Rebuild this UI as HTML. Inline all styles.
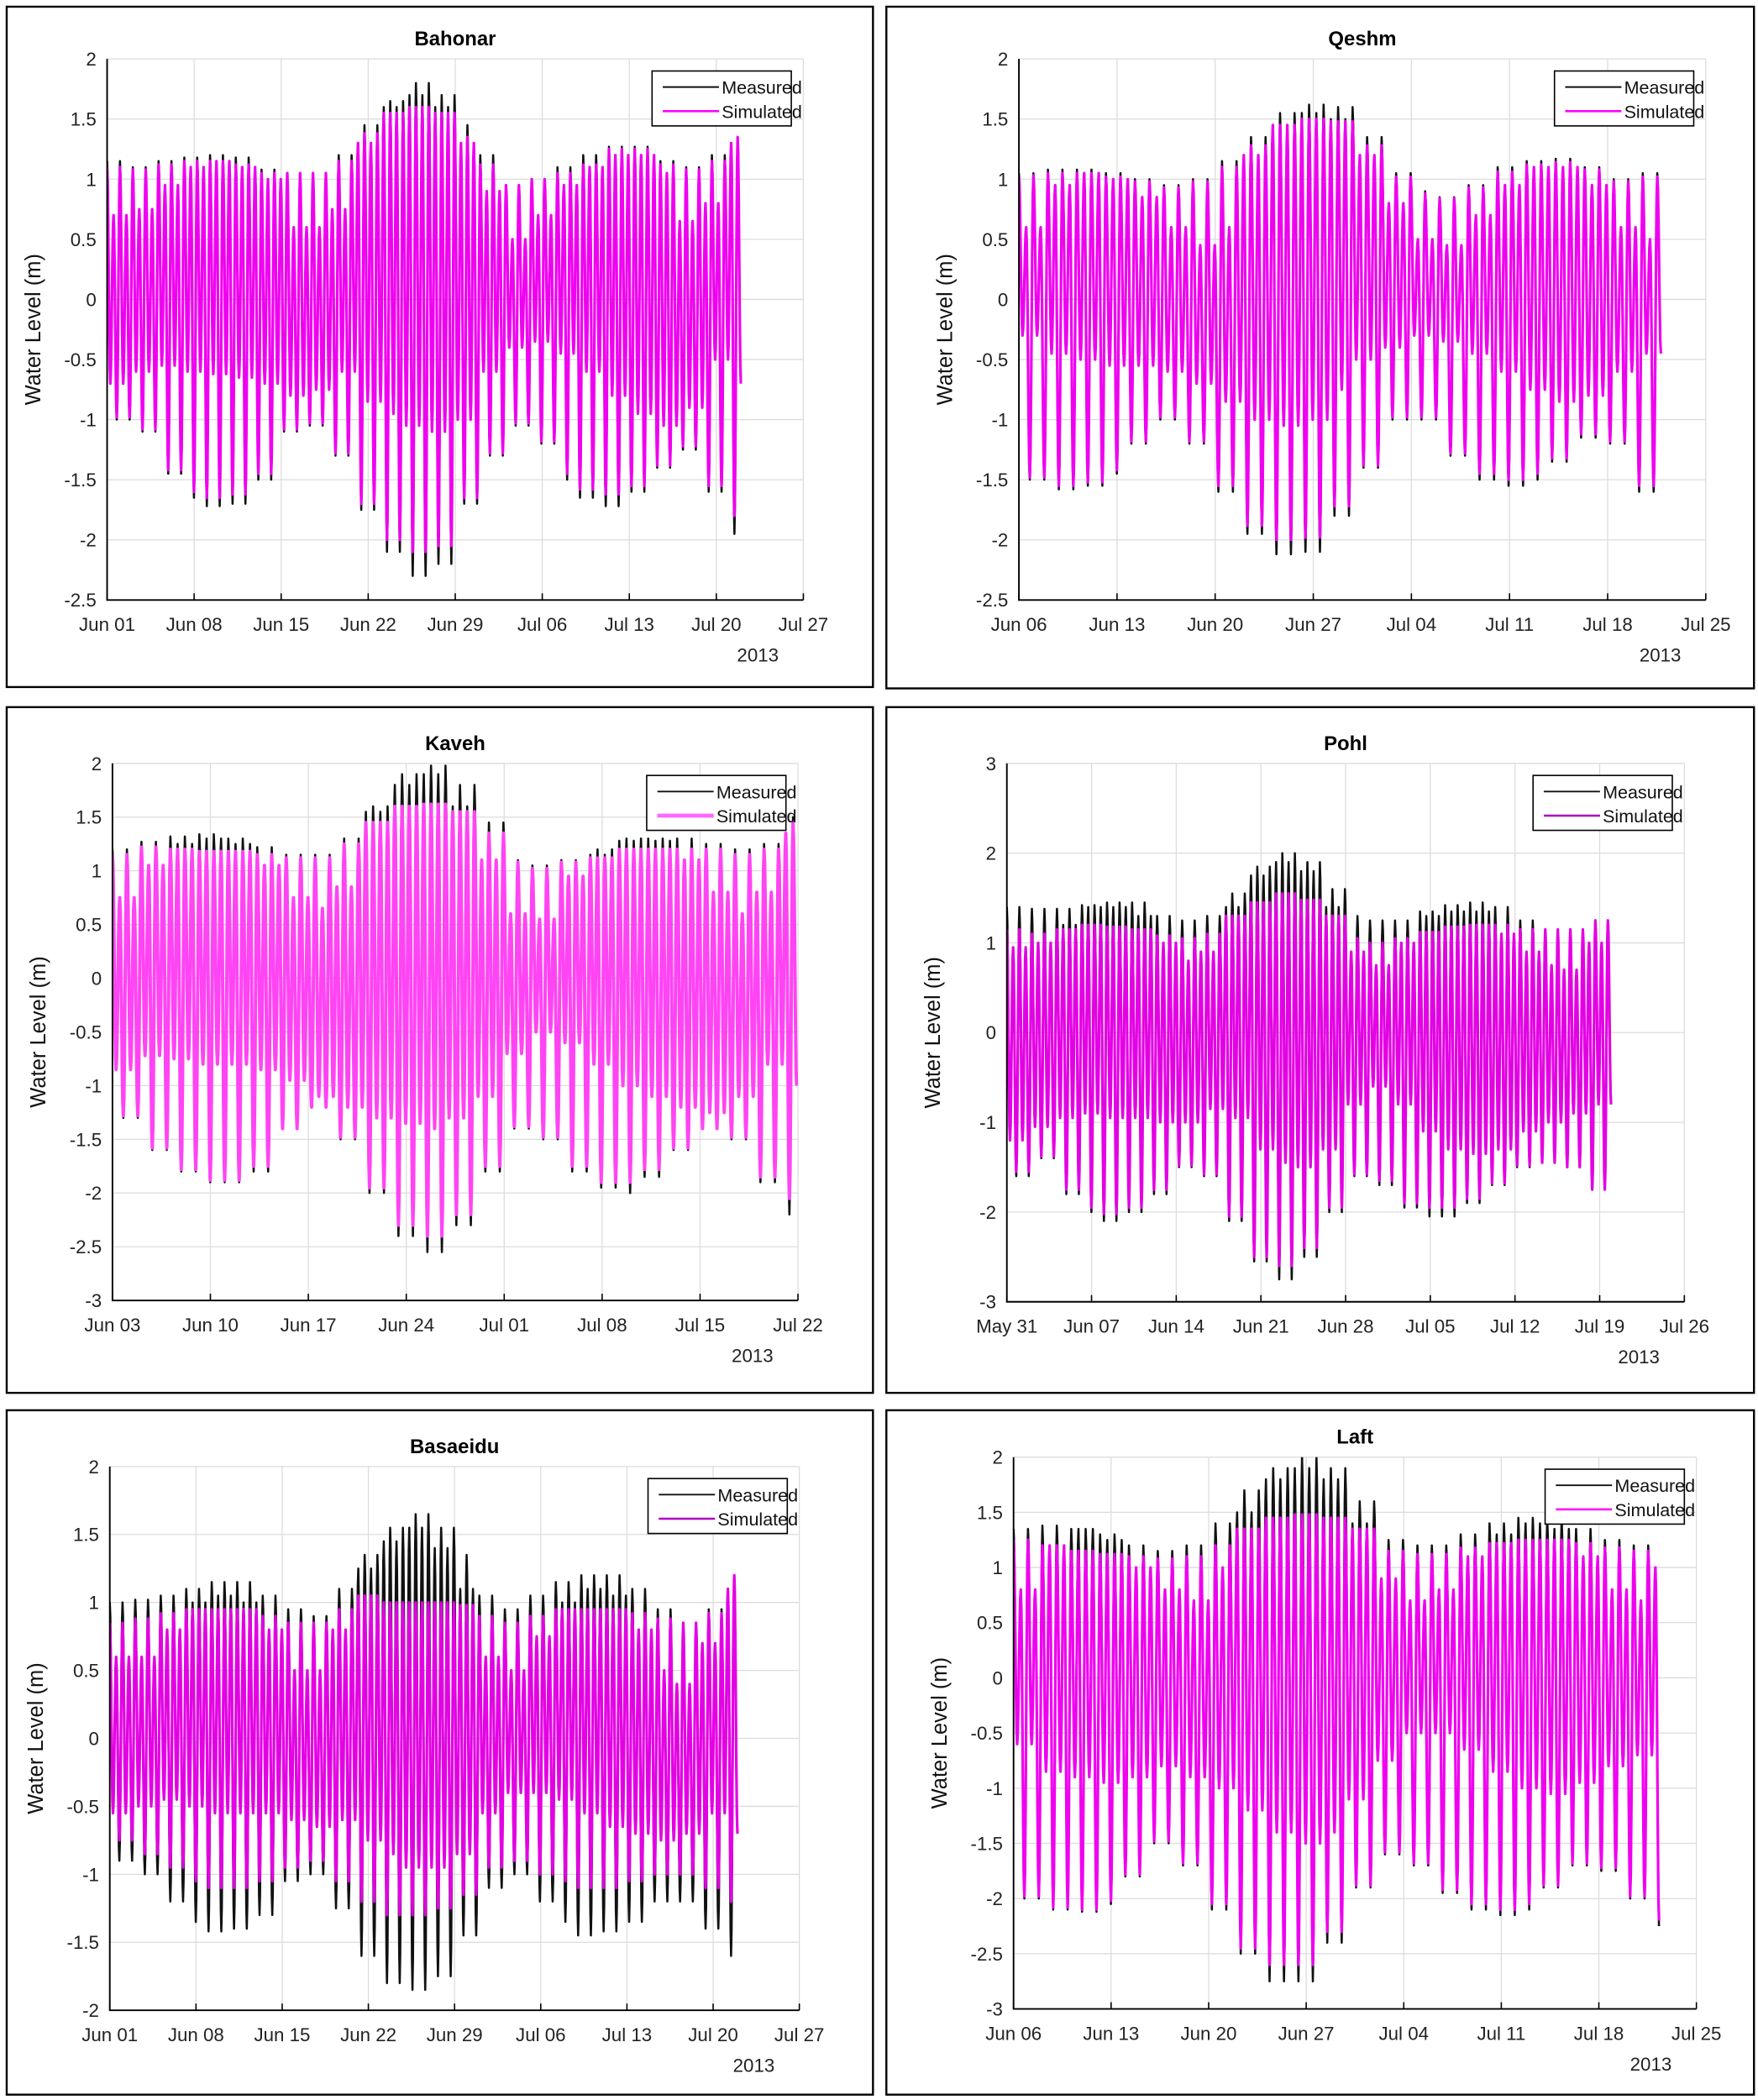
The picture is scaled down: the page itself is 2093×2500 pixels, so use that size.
<!DOCTYPE html>
<html><head><meta charset="utf-8">
<style>
html,body{margin:0;padding:0;background:#fff;}
svg{display:block;}
text{font-family:"Liberation Sans",Arial,sans-serif;}
</style></head>
<body>
<svg id="fig" width="2093" height="2500" viewBox="0 0 1313 1568" preserveAspectRatio="none" xmlns="http://www.w3.org/2000/svg"></svg>
<script>
// ---------- data (2-day bins) ----------
const bahonarTicks = ['Jun 01','Jun 08','Jun 15','Jun 22','Jun 29','Jul 06','Jul 13','Jul 20','Jul 27'];
const bahonarHH = [1.15,1.1,1.15,1.18,1.2,1.18,1.08,1.05,1.05,1.2,1.45,1.65,1.8,1.7,1.45,1.2,0.95,1.0,1.1,1.2,1.27,1.27,1.15,1.1,1.2,1.35];
const bahonarLH = [0.7,0.75,0.95,1.1,1.15,1.1,1.0,0.6,0.6,0.75,1.3,1.6,1.7,1.6,1.3,0.9,0.5,0.7,0.95,1.1,1.2,1.2,1.05,0.65,0.8,1.3];
const bahonarHL = [-0.7,-0.6,-0.55,-0.6,-0.62,-0.65,-0.7,-0.8,-0.75,-0.6,-0.85,-0.95,-1.05,-1.1,-1.0,-0.6,-0.4,-0.35,-0.45,-0.6,-0.8,-0.95,-1.05,-0.9,-0.5,-0.7];
const bahonarLL = [-1.0,-1.1,-1.45,-1.65,-1.72,-1.7,-1.5,-1.1,-1.05,-1.3,-1.75,-2.1,-2.3,-2.2,-1.7,-1.3,-1.05,-1.2,-1.5,-1.65,-1.72,-1.6,-1.4,-1.25,-1.6,-1.95];
const bahonarSimHH = [1.1,1.08,1.12,1.15,1.15,1.12,1.05,1.05,1.05,1.15,1.38,1.55,1.6,1.55,1.35,1.12,0.95,1.0,1.05,1.12,1.25,1.25,1.12,1.08,1.15,1.35];
const bahonarSimLL = [-0.98,-1.08,-1.42,-1.6,-1.65,-1.62,-1.45,-1.08,-1.03,-1.28,-1.7,-2.0,-2.1,-2.05,-1.65,-1.28,-1.03,-1.18,-1.45,-1.58,-1.62,-1.55,-1.38,-1.22,-1.55,-1.8];

const qeshmTicks = ['Jun 06','Jun 13','Jun 20','Jun 27','Jul 04','Jul 11','Jul 18','Jul 25'];
const qeshmHH = [1.05,1.08,1.08,1.05,1.0,0.95,1.0,1.15,1.35,1.55,1.62,1.6,1.35,1.05,0.9,0.85,0.95,1.1,1.15,1.17,1.1,1.0,1.05,1.25];
const qeshmLH = [0.6,0.95,1.05,1.0,0.85,0.6,0.45,0.6,1.2,1.45,1.55,1.5,1.2,0.8,0.5,0.45,0.7,0.95,1.1,1.1,0.95,0.6,0.5,0.9];
const qeshmHL = [-0.3,-0.45,-0.5,-0.55,-0.55,-0.6,-0.7,-0.85,-1.0,-1.05,-1.0,-0.75,-0.5,-0.4,-0.3,-0.35,-0.45,-0.6,-0.75,-0.85,-0.8,-0.6,-0.45,-0.65];
const qeshmLL = [-1.5,-1.58,-1.55,-1.45,-1.2,-1.0,-1.2,-1.6,-1.95,-2.12,-2.1,-1.8,-1.4,-1.0,-1.0,-1.3,-1.5,-1.55,-1.5,-1.35,-1.15,-1.2,-1.6,-1.8];
const qeshmSimHH = [1.03,1.05,1.05,1.02,0.98,0.93,0.98,1.1,1.28,1.45,1.5,1.48,1.28,1.02,0.88,0.84,0.93,1.06,1.12,1.14,1.08,0.98,1.02,1.2];
const qeshmSimLL = [-1.48,-1.55,-1.52,-1.42,-1.18,-0.98,-1.18,-1.55,-1.88,-2.0,-1.98,-1.72,-1.38,-0.98,-0.98,-1.28,-1.45,-1.5,-1.45,-1.32,-1.12,-1.18,-1.55,-1.65];

const kavehTicks = ['Jun 03','Jun 10','Jun 17','Jun 24','Jul 01','Jul 08','Jul 15','Jul 22'];
const kavehHH = [1.2,1.27,1.32,1.34,1.3,1.22,1.15,1.15,1.3,1.6,1.9,1.98,1.8,1.45,1.1,1.05,1.1,1.15,1.28,1.3,1.3,1.25,1.2,1.25,1.5];
const kavehLH = [0.75,1.05,1.25,1.3,1.25,1.05,0.75,0.65,0.85,1.55,1.8,1.9,1.6,1.1,0.6,0.55,0.95,1.2,1.3,1.28,1.1,0.8,0.6,0.8,1.35];
const kavehHL = [-0.85,-0.72,-0.75,-0.8,-0.8,-0.85,-0.95,-1.1,-1.2,-1.3,-1.35,-1.4,-1.3,-1.1,-0.7,-0.5,-0.6,-0.8,-1.0,-1.1,-1.2,-1.25,-1.1,-0.8,-1.0];
const kavehLL = [-1.3,-1.6,-1.8,-1.9,-1.9,-1.8,-1.4,-1.2,-1.5,-2.0,-2.4,-2.55,-2.3,-1.8,-1.4,-1.5,-1.8,-1.95,-2.0,-1.85,-1.6,-1.4,-1.5,-1.9,-2.2];
const kavehSimHH = [1.15,1.22,1.2,1.18,1.18,1.15,1.12,1.12,1.25,1.45,1.6,1.62,1.55,1.35,1.08,1.02,1.08,1.12,1.2,1.2,1.2,1.2,1.15,1.2,1.45];
const kavehSimLL = [-1.28,-1.58,-1.78,-1.88,-1.88,-1.75,-1.4,-1.2,-1.48,-1.95,-2.3,-2.4,-2.2,-1.75,-1.38,-1.48,-1.75,-1.9,-1.9,-1.78,-1.58,-1.4,-1.48,-1.85,-2.05];

const pohlTicks = ['May 31','Jun 07','Jun 14','Jun 21','Jun 28','Jul 05','Jul 12','Jul 19','Jul 26'];
const pohlHH = [1.4,1.38,1.38,1.42,1.45,1.45,1.3,1.25,1.3,1.55,1.85,2.0,1.9,1.6,1.3,1.25,1.25,1.35,1.42,1.45,1.4,1.25,1.1,0.85,1.1];
const pohlLH = [0.95,1.0,1.2,1.4,1.4,1.3,1.0,0.8,0.9,1.4,1.75,1.9,1.8,1.4,0.9,0.75,1.0,1.3,1.35,1.35,1.1,0.9,0.75,0.7,1.0];
const pohlHL = [-1.2,-1.05,-0.95,-0.9,-0.95,-0.95,-1.0,-1.0,-0.85,-0.95,-1.3,-1.45,-1.5,-1.3,-0.8,-0.6,-0.8,-1.1,-1.3,-1.35,-1.3,-1.1,-1.0,-0.9,-0.8];
const pohlLL = [-1.6,-1.4,-1.8,-2.0,-2.1,-2.0,-1.8,-1.5,-1.6,-2.1,-2.55,-2.75,-2.5,-2.0,-1.6,-1.7,-1.95,-2.05,-2.05,-1.9,-1.7,-1.5,-1.45,-1.5,-1.75];
const pohlSimHH = [1.15,1.1,1.15,1.2,1.18,1.15,1.08,1.05,1.1,1.3,1.45,1.55,1.48,1.3,1.05,1.0,1.05,1.12,1.18,1.2,1.2,1.15,1.15,1.15,1.25];
const pohlSimLL = [-1.55,-1.38,-1.75,-1.95,-2.02,-1.95,-1.75,-1.48,-1.58,-2.05,-2.5,-2.6,-2.4,-1.95,-1.58,-1.65,-1.9,-1.95,-1.95,-1.85,-1.68,-1.48,-1.45,-1.5,-1.75];

const basaeiduTicks = ['Jun 01','Jun 08','Jun 15','Jun 22','Jun 29','Jul 06','Jul 13','Jul 20','Jul 27'];
const basaeiduHH = [1.0,1.02,1.05,1.1,1.15,1.15,1.05,0.95,0.9,1.1,1.35,1.55,1.65,1.55,1.35,1.05,0.95,1.05,1.15,1.2,1.2,1.1,0.95,0.85,0.95,1.2];
const basaeiduLH = [0.6,0.6,0.8,1.0,1.05,1.0,0.8,0.5,0.5,0.8,1.25,1.45,1.55,1.4,1.1,0.6,0.5,0.75,1.0,1.1,1.05,0.8,0.5,0.4,0.7,1.1];
const basaeiduHL = [-0.55,-0.5,-0.45,-0.5,-0.55,-0.55,-0.55,-0.6,-0.65,-0.6,-0.75,-0.85,-0.95,-0.95,-0.85,-0.55,-0.4,-0.4,-0.45,-0.55,-0.65,-0.7,-0.75,-0.7,-0.55,-0.7];
const basaeiduLL = [-0.9,-1.0,-1.2,-1.35,-1.42,-1.4,-1.3,-1.05,-1.0,-1.25,-1.6,-1.8,-1.85,-1.75,-1.45,-1.1,-1.0,-1.2,-1.35,-1.45,-1.42,-1.35,-1.2,-1.2,-1.4,-1.6];
const basaeiduSimHH = [0.85,0.88,0.92,0.95,0.95,0.95,0.9,0.85,0.85,0.95,1.05,1.0,1.0,1.0,0.98,0.9,0.85,0.9,0.95,0.95,0.95,0.92,0.88,0.85,0.92,1.2];
const basaeiduSimLL = [-0.75,-0.85,-0.95,-1.05,-1.1,-1.1,-1.05,-0.95,-0.9,-1.05,-1.2,-1.3,-1.3,-1.25,-1.15,-0.95,-0.9,-1.0,-1.05,-1.1,-1.1,-1.05,-1.0,-1.0,-1.1,-1.2];

const laftTicks = ['Jun 06','Jun 13','Jun 20','Jun 27','Jul 04','Jul 11','Jul 18','Jul 25'];
const laftHH = [1.35,1.38,1.35,1.3,1.2,1.15,1.2,1.4,1.7,1.9,2.0,1.9,1.6,1.25,1.2,1.2,1.3,1.4,1.45,1.45,1.35,1.25,1.2,1.3];
const laftLH = [0.8,1.2,1.35,1.25,1.0,0.8,0.7,1.0,1.5,1.8,1.9,1.8,1.4,0.9,0.7,0.8,1.1,1.3,1.4,1.35,1.1,0.8,0.7,1.0];
const laftHL = [-0.6,-0.85,-0.9,-0.95,-0.9,-0.8,-0.9,-1.0,-1.2,-1.4,-1.5,-1.4,-1.1,-0.75,-0.5,-0.5,-0.65,-0.85,-1.0,-1.05,-0.95,-0.8,-0.7,-1.1];
const laftLL = [-2.0,-2.1,-2.12,-2.05,-1.8,-1.5,-1.7,-2.1,-2.5,-2.75,-2.75,-2.4,-1.9,-1.6,-1.7,-1.95,-2.1,-2.15,-2.1,-1.9,-1.7,-1.75,-2.0,-2.25];
const laftSimHH = [1.25,1.2,1.15,1.12,1.1,1.08,1.1,1.2,1.35,1.45,1.48,1.45,1.35,1.15,1.12,1.12,1.18,1.22,1.25,1.25,1.22,1.18,1.15,1.25];
const laftSimLL = [-1.98,-2.08,-2.1,-2.02,-1.78,-1.48,-1.68,-2.05,-2.45,-2.6,-2.6,-2.3,-1.88,-1.58,-1.68,-1.92,-2.05,-2.1,-2.05,-1.88,-1.68,-1.72,-1.98,-2.2];

// ---------- layout ----------
const panels = [
 {name:'bahonar',title:'Bahonar',box:[5,5,647,508],pl:[80,600,44,448],ymax:2,ymin:-2.5,ystep:0.5,ticks:bahonarTicks,end:51,hh:bahonarHH,lh:bahonarLH,hl:bahonarHL,ll:bahonarLL,shh:bahonarSimHH,sll:bahonarSimLL,sc:'#f000f0',sw:2,lc:'#ff00ff'},
 {name:'qeshm',title:'Qeshm',box:[662,5,648,509],pl:[761,1274,44,448],ymax:2,ymin:-2.5,ystep:0.5,ticks:qeshmTicks,end:46,hh:qeshmHH,lh:qeshmLH,hl:qeshmHL,ll:qeshmLL,shh:qeshmSimHH,sll:qeshmSimLL,sc:'#f000f0',sw:2,lc:'#ff00ff'},
 {name:'kaveh',title:'Kaveh',box:[5,528,647,512],pl:[84,596,570,971],ymax:2,ymin:-3,ystep:0.5,ticks:kavehTicks,end:49,hh:kavehHH,lh:kavehLH,hl:kavehHL,ll:kavehLL,shh:kavehSimHH,sll:kavehSimLL,sc:'#ff44f4',sw:2.5,lc:'#ff66ff'},
 {name:'pohl',title:'Pohl',box:[662,528,648,512],pl:[752,1258,570,972],ymax:3,ymin:-3,ystep:1,ticks:pohlTicks,end:50,hh:pohlHH,lh:pohlLH,hl:pohlHL,ll:pohlLL,shh:pohlSimHH,sll:pohlSimLL,sc:'#e400e4',sw:2,lc:'#b000c0'},
 {name:'basaeidu',title:'Basaeidu',box:[5,1053,647,511],pl:[82,597,1095,1501],ymax:2,ymin:-2,ystep:0.5,ticks:basaeiduTicks,end:51,hh:basaeiduHH,lh:basaeiduLH,hl:basaeiduHL,ll:basaeiduLL,shh:basaeiduSimHH,sll:basaeiduSimLL,sc:'#e400e4',sw:2,lc:'#b000c0'},
 {name:'laft',title:'Laft',box:[662,1053,648,511],pl:[757,1267,1088,1500],ymax:2,ymin:-3,ystep:0.5,ticks:laftTicks,end:46.5,hh:laftHH,lh:laftLH,hl:laftHL,ll:laftLL,shh:laftSimHH,sll:laftSimLL,sc:'#f000f0',sw:2,lc:'#ff00ff'}
];
const NS='http://www.w3.org/2000/svg';
const svg=document.getElementById('fig');
function mk(tag,attrs,parent){const e=document.createElementNS(NS,tag);for(const k in attrs)e.setAttribute(k,attrs[k]);(parent||svg).appendChild(e);return e;}
function fmt(v){return (Math.round(v*10)/10).toString();}

panels.forEach((p,pi)=>{
  const g=mk('g',{});
  
  
  const [x0,x1,y0,y1]=p.pl;
  const span=(p.ticks.length-1)*7;
  const X=t=>x0+(x1-x0)*t/span;
  const Y=v=>y0+(y1-y0)*(p.ymax-v)/(p.ymax-p.ymin);
  const frame=mk('rect',{x:p.box[0],y:p.box[1],width:p.box[2],height:p.box[3],fill:'#fff',stroke:'#000','stroke-width':1.5},g);
  
  
  for(let i=0;i<p.ticks.length;i++){
    const gl=mk('line',{x1:X(i*7),x2:X(i*7),y1:y0,y2:y1,stroke:'#dcdcdc','stroke-width':0.8},g);
    
    
  }
  const ny=Math.round((p.ymax-p.ymin)/p.ystep);
  for(let j=0;j<=ny;j++){
    const v=p.ymax-j*p.ystep;
    const gl=mk('line',{x1:x0,x2:x1,y1:Y(v),y2:Y(v),stroke:'#dcdcdc','stroke-width':0.8},g);
    
    
    const tl=mk('text',{x:x0-8,y:Y(v)+5,'text-anchor':'end','font-size':14,fill:'#222'},g);
    tl.textContent=fmt(v);
    
    
  }
  const cid='clip'+pi;
  const cp=mk('clipPath',{id:cid},g);mk('rect',{x:x0,y:y0,width:x1-x0,height:y1-y0},cp);
  const per=0.5175;
  function build(sim){
    const ext=[];
    for(let k=0;k*per<=p.end;k++){
      const t=k*per, tl=t+per/2;
      const b=Math.min(Math.floor(t/2),p.hh.length-1);
      const b2=Math.min(Math.floor(tl/2),p.hh.length-1);
      let hi,lo;
      if(k%2===0){hi=sim?p.shh[b]:p.hh[b];lo=sim?Math.max(p.hl[b2],p.sll[b2]):p.hl[b2];}
      else{hi=sim?Math.min(p.lh[b],p.shh[b]):p.lh[b];lo=sim?p.sll[b2]:p.ll[b2];}
      ext.push([t,hi]);if(tl<=p.end)ext.push([tl,lo]);
    }
    let d='M'+X(ext[0][0]).toFixed(2)+' '+Y(ext[0][1]).toFixed(2);
    for(let i=1;i<ext.length;i++){
      const [ta,va]=ext[i-1],[tb,vb]=ext[i];
      for(let s=1;s<=6;s++){const f=s/6;const w=(1-Math.cos(Math.PI*f))/2;
        d+='L'+X(ta+(tb-ta)*f).toFixed(2)+' '+Y(va+(vb-va)*w).toFixed(2);}
    }
    return d;
  }
  const meas=mk('path',{d:build(false),fill:'none',stroke:'#111','stroke-width':1.6,'clip-path':'url(#'+cid+')','stroke-linejoin':'round'},g);
  
  
  const simp=mk('path',{d:build(true),fill:'none',stroke:p.sc,'stroke-width':p.sw,'clip-path':'url(#'+cid+')','stroke-linejoin':'round'},g);
  
  
  const ax=mk('path',{d:`M${x0} ${y0}V${y1}H${x1}`,fill:'none',stroke:'#000','stroke-width':1.2},g);
  
  
  for(let i=0;i<p.ticks.length;i++){
    const tk=mk('line',{x1:X(i*7),x2:X(i*7),y1:y1,y2:y1-5,stroke:'#000','stroke-width':1},g);
    
    
    const tl=mk('text',{x:X(i*7),y:y1+23,'text-anchor':'middle','font-size':14,fill:'#222'},g);
    tl.textContent=p.ticks[i];
    
    
  }
  const yr=mk('text',{x:x1-34,y:y1+46,'text-anchor':'middle','font-size':14,fill:'#222'},g);
  yr.textContent='2013';
  
  
  const tt=mk('text',{x:(x0+x1)/2,y:y0-10,'text-anchor':'middle','font-size':15,'font-weight':'bold',fill:'#000'},g);
  tt.textContent=p.title;
  
  
  const yl=mk('text',{x:0,y:0,'text-anchor':'middle','font-size':16,fill:'#111',transform:`translate(${x0-50},${(y0+y1)/2}) rotate(-90)`},g);
  yl.textContent='Water Level (m)';
  
  
  const lw=104,lh=41,lx=x1-9-lw,ly=y0+9;
  const lg=mk('g',{},g);
  
  
  mk('rect',{x:lx,y:ly,width:lw,height:lh,fill:'#fff',stroke:'#000','stroke-width':1},lg);
  mk('line',{x1:lx+8,x2:lx+50,y1:ly+12,y2:ly+12,stroke:'#111','stroke-width':1.2},lg);
  mk('line',{x1:lx+8,x2:lx+50,y1:ly+30,y2:ly+30,stroke:p.lc,'stroke-width':p.name==='kaveh'?3:1.6},lg);
  const t1=mk('text',{x:lx+52,y:ly+17,'font-size':13.5,fill:'#111'},lg);t1.textContent='Measured';
  
  
  const t2=mk('text',{x:lx+52,y:ly+35,'font-size':13.5,fill:'#111'},lg);t2.textContent='Simulated';
  
  
});
</script>
</body></html>
